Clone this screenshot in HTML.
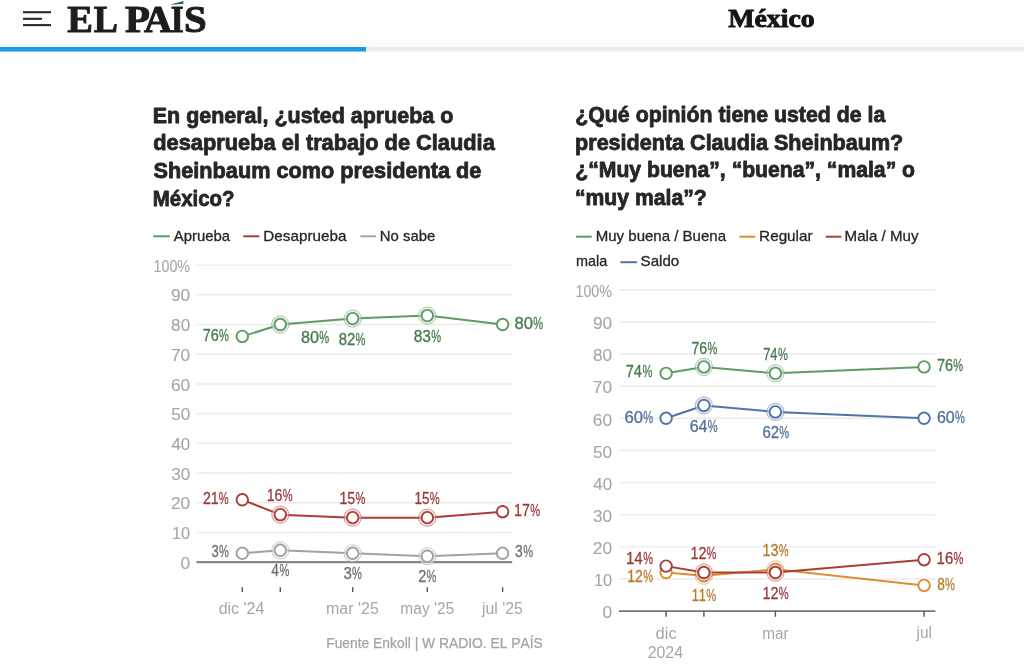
<!DOCTYPE html>
<html><head><meta charset="utf-8"><style>
html,body{margin:0;padding:0;background:#fff;width:1024px;height:671px;overflow:hidden}
svg text{font-kerning:none}
</style></head><body>
<svg width="1024" height="671" viewBox="0 0 1024 671" style="display:block;filter:blur(0.35px)">
<rect width="1024" height="671" fill="#fff"/>
<defs><linearGradient id="sh" x1="0" y1="0" x2="0" y2="1"><stop offset="0" stop-color="#000" stop-opacity="0"/><stop offset="1" stop-color="#000" stop-opacity="0.025"/></linearGradient></defs>
<rect x="0" y="38" width="1024" height="9" fill="url(#sh)"/>
<rect x="0" y="47" width="1024" height="4.5" fill="#ececec"/>
<rect x="0" y="47" width="366" height="4.5" fill="#1b9be3"/>
<line x1="23" y1="12.2" x2="51" y2="12.2" stroke="#2a2a2a" stroke-width="2.1"/>
<line x1="23" y1="18.8" x2="42" y2="18.8" stroke="#2a2a2a" stroke-width="2.1"/>
<line x1="23" y1="25.1" x2="51" y2="25.1" stroke="#2a2a2a" stroke-width="2.1"/>
<text x="67.34" y="31.80" font-family="Liberation Serif" font-weight="bold" font-size="37" fill="#1d1d1b" textLength="25.63" lengthAdjust="spacingAndGlyphs" stroke="#1d1d1b" stroke-width="1.0" stroke-linejoin="round">E</text>
<text x="93.68" y="31.80" font-family="Liberation Serif" font-weight="bold" font-size="37" fill="#1d1d1b" textLength="24.14" lengthAdjust="spacingAndGlyphs" stroke="#1d1d1b" stroke-width="1.0" stroke-linejoin="round">L</text>
<text x="124.90" y="31.80" font-family="Liberation Serif" font-weight="bold" font-size="37" fill="#1d1d1b" textLength="24.96" lengthAdjust="spacingAndGlyphs" stroke="#1d1d1b" stroke-width="1.0" stroke-linejoin="round">P</text>
<text x="144.12" y="31.80" font-family="Liberation Serif" font-weight="bold" font-size="37" fill="#1d1d1b" textLength="28.06" lengthAdjust="spacingAndGlyphs" stroke="#1d1d1b" stroke-width="1.0" stroke-linejoin="round">A</text>
<text x="170.68" y="31.80" font-family="Liberation Serif" font-weight="bold" font-size="37" fill="#1d1d1b" textLength="12.94" lengthAdjust="spacingAndGlyphs" stroke="#1d1d1b" stroke-width="1.0" stroke-linejoin="round">I</text>
<text x="184.13" y="31.80" font-family="Liberation Serif" font-weight="bold" font-size="37" fill="#1d1d1b" textLength="22.71" lengthAdjust="spacingAndGlyphs" stroke="#1d1d1b" stroke-width="1.0" stroke-linejoin="round">S</text>
<path d="M171.4 4.3 L183.4 1.0 L183.4 4.1 L171.4 4.7 Z" fill="#2b6478"/>
<text x="728.17" y="26.90" font-family="Liberation Serif" font-weight="bold" font-size="25.5" fill="#151515" textLength="86.54" lengthAdjust="spacingAndGlyphs" stroke="#151515" stroke-width="0.9" stroke-linejoin="round">México</text>
<text x="152.76" y="122.70" font-family="Liberation Sans" font-weight="bold" font-size="21.5" fill="#262626" textLength="300.57" lengthAdjust="spacingAndGlyphs" stroke="#262626" stroke-width="0.8" stroke-linejoin="round">En general, ¿usted aprueba o</text>
<text x="153.31" y="150.20" font-family="Liberation Sans" font-weight="bold" font-size="21.5" fill="#262626" textLength="341.46" lengthAdjust="spacingAndGlyphs" stroke="#262626" stroke-width="0.8" stroke-linejoin="round">desaprueba el trabajo de Claudia</text>
<text x="153.58" y="178.10" font-family="Liberation Sans" font-weight="bold" font-size="21.5" fill="#262626" textLength="327.77" lengthAdjust="spacingAndGlyphs" stroke="#262626" stroke-width="0.8" stroke-linejoin="round">Sheinbaum como presidenta de</text>
<text x="152.83" y="206.00" font-family="Liberation Sans" font-weight="bold" font-size="21.5" fill="#262626" textLength="81.74" lengthAdjust="spacingAndGlyphs" stroke="#262626" stroke-width="0.8" stroke-linejoin="round">México?</text>
<text x="575.31" y="121.80" font-family="Liberation Sans" font-weight="bold" font-size="21.5" fill="#262626" textLength="309.95" lengthAdjust="spacingAndGlyphs" stroke="#262626" stroke-width="0.8" stroke-linejoin="round">¿Qué opinión tiene usted de la</text>
<text x="575.08" y="149.60" font-family="Liberation Sans" font-weight="bold" font-size="21.5" fill="#262626" textLength="328.16" lengthAdjust="spacingAndGlyphs" stroke="#262626" stroke-width="0.8" stroke-linejoin="round">presidenta Claudia Sheinbaum?</text>
<text x="575.32" y="177.30" font-family="Liberation Sans" font-weight="bold" font-size="21.5" fill="#262626" textLength="339.70" lengthAdjust="spacingAndGlyphs" stroke="#262626" stroke-width="0.8" stroke-linejoin="round">¿“Muy buena”, “buena”, “mala” o</text>
<text x="574.94" y="205.00" font-family="Liberation Sans" font-weight="bold" font-size="21.5" fill="#262626" textLength="131.78" lengthAdjust="spacingAndGlyphs" stroke="#262626" stroke-width="0.8" stroke-linejoin="round">“muy mala”?</text>
<line x1="153.3" y1="236.3" x2="169.8" y2="236.3" stroke="#5e9b66" stroke-width="2"/>
<text x="173.82" y="240.90" font-family="Liberation Sans" font-weight="normal" font-size="15" fill="#262626" textLength="56.33" lengthAdjust="spacingAndGlyphs" stroke="#262626" stroke-width="0.3" stroke-linejoin="round">Aprueba</text>
<line x1="243.3" y1="236.3" x2="259.4" y2="236.3" stroke="#ab3d37" stroke-width="2"/>
<text x="263.30" y="240.90" font-family="Liberation Sans" font-weight="normal" font-size="15" fill="#262626" textLength="83.15" lengthAdjust="spacingAndGlyphs" stroke="#262626" stroke-width="0.3" stroke-linejoin="round">Desaprueba</text>
<line x1="360.4" y1="236.3" x2="376.1" y2="236.3" stroke="#a5a5a5" stroke-width="2"/>
<text x="379.83" y="240.90" font-family="Liberation Sans" font-weight="normal" font-size="15" fill="#262626" textLength="55.38" lengthAdjust="spacingAndGlyphs" stroke="#262626" stroke-width="0.3" stroke-linejoin="round">No sabe</text>
<line x1="575.9" y1="236.7" x2="591.7" y2="236.7" stroke="#5e9b66" stroke-width="2"/>
<text x="595.72" y="240.80" font-family="Liberation Sans" font-weight="normal" font-size="15" fill="#262626" textLength="130.33" lengthAdjust="spacingAndGlyphs" stroke="#262626" stroke-width="0.3" stroke-linejoin="round">Muy buena / Buena</text>
<line x1="739.4" y1="236.7" x2="755.4" y2="236.7" stroke="#da8f30" stroke-width="2"/>
<text x="759.10" y="240.80" font-family="Liberation Sans" font-weight="normal" font-size="15" fill="#262626" textLength="53.51" lengthAdjust="spacingAndGlyphs" stroke="#262626" stroke-width="0.3" stroke-linejoin="round">Regular</text>
<line x1="825.7" y1="236.7" x2="841.3" y2="236.7" stroke="#ab3d37" stroke-width="2"/>
<text x="844.61" y="240.80" font-family="Liberation Sans" font-weight="normal" font-size="15" fill="#262626" textLength="73.87" lengthAdjust="spacingAndGlyphs" stroke="#262626" stroke-width="0.3" stroke-linejoin="round">Mala / Muy</text>
<text x="576.09" y="266.00" font-family="Liberation Sans" font-weight="normal" font-size="15" fill="#262626" textLength="31.26" lengthAdjust="spacingAndGlyphs" stroke="#262626" stroke-width="0.3" stroke-linejoin="round">mala</text>
<line x1="620.4" y1="262.2" x2="637.0" y2="262.2" stroke="#4f75a8" stroke-width="2"/>
<text x="640.56" y="266.00" font-family="Liberation Sans" font-weight="normal" font-size="15" fill="#262626" textLength="38.72" lengthAdjust="spacingAndGlyphs" stroke="#262626" stroke-width="0.3" stroke-linejoin="round">Saldo</text>
<line x1="196.5" y1="532.49" x2="512.2" y2="532.49" stroke="#ebebeb" stroke-width="1.4"/>
<line x1="196.5" y1="502.78" x2="512.2" y2="502.78" stroke="#ebebeb" stroke-width="1.4"/>
<line x1="196.5" y1="473.07" x2="512.2" y2="473.07" stroke="#ebebeb" stroke-width="1.4"/>
<line x1="196.5" y1="443.36" x2="512.2" y2="443.36" stroke="#ebebeb" stroke-width="1.4"/>
<line x1="196.5" y1="413.65" x2="512.2" y2="413.65" stroke="#ebebeb" stroke-width="1.4"/>
<line x1="196.5" y1="383.94" x2="512.2" y2="383.94" stroke="#ebebeb" stroke-width="1.4"/>
<line x1="196.5" y1="354.23" x2="512.2" y2="354.23" stroke="#ebebeb" stroke-width="1.4"/>
<line x1="196.5" y1="324.52" x2="512.2" y2="324.52" stroke="#ebebeb" stroke-width="1.4"/>
<line x1="196.5" y1="294.81" x2="512.2" y2="294.81" stroke="#ebebeb" stroke-width="1.4"/>
<line x1="196.5" y1="265.10" x2="512.2" y2="265.10" stroke="#ebebeb" stroke-width="1.4"/>
<line x1="196.5" y1="562.20" x2="512.2" y2="562.20" stroke="#868686" stroke-width="2.2"/>
<line x1="242.3" y1="587.2" x2="242.3" y2="592" stroke="#555" stroke-width="1.4"/>
<line x1="280.3" y1="587.2" x2="280.3" y2="592" stroke="#555" stroke-width="1.4"/>
<line x1="352.7" y1="587.2" x2="352.7" y2="592" stroke="#555" stroke-width="1.4"/>
<line x1="427.3" y1="587.2" x2="427.3" y2="592" stroke="#555" stroke-width="1.4"/>
<line x1="502.6" y1="587.2" x2="502.6" y2="592" stroke="#555" stroke-width="1.4"/>
<polyline points="242.30,336.40 280.30,324.52 352.70,318.58 427.30,315.61 502.60,324.52" fill="none" stroke="#5e9b66" stroke-width="2.0" stroke-linejoin="round"/>
<circle cx="242.30" cy="336.40" r="5.75" fill="#fff" stroke="#5e9b66" stroke-width="1.9"/>
<circle cx="280.30" cy="324.52" r="8.6" fill="#fff" fill-opacity="0.55" stroke="#5e9b66" stroke-opacity="0.5" stroke-width="1.0"/>
<circle cx="280.30" cy="324.52" r="8.6" fill="#5e9b66" fill-opacity="0.12"/>
<circle cx="280.30" cy="324.52" r="5.75" fill="#fff" stroke="#5e9b66" stroke-width="1.9"/>
<circle cx="352.70" cy="318.58" r="8.6" fill="#fff" fill-opacity="0.55" stroke="#5e9b66" stroke-opacity="0.5" stroke-width="1.0"/>
<circle cx="352.70" cy="318.58" r="8.6" fill="#5e9b66" fill-opacity="0.12"/>
<circle cx="352.70" cy="318.58" r="5.75" fill="#fff" stroke="#5e9b66" stroke-width="1.9"/>
<circle cx="427.30" cy="315.61" r="8.6" fill="#fff" fill-opacity="0.55" stroke="#5e9b66" stroke-opacity="0.5" stroke-width="1.0"/>
<circle cx="427.30" cy="315.61" r="8.6" fill="#5e9b66" fill-opacity="0.12"/>
<circle cx="427.30" cy="315.61" r="5.75" fill="#fff" stroke="#5e9b66" stroke-width="1.9"/>
<circle cx="502.60" cy="324.52" r="5.75" fill="#fff" stroke="#5e9b66" stroke-width="1.9"/>
<polyline points="242.30,499.81 280.30,514.66 352.70,517.63 427.30,517.63 502.60,511.69" fill="none" stroke="#ab3d37" stroke-width="2.0" stroke-linejoin="round"/>
<circle cx="242.30" cy="499.81" r="5.75" fill="#fff" stroke="#ab3d37" stroke-width="1.9"/>
<circle cx="280.30" cy="514.66" r="8.6" fill="#fff" fill-opacity="0.55" stroke="#ab3d37" stroke-opacity="0.5" stroke-width="1.0"/>
<circle cx="280.30" cy="514.66" r="8.6" fill="#ab3d37" fill-opacity="0.12"/>
<circle cx="280.30" cy="514.66" r="5.75" fill="#fff" stroke="#ab3d37" stroke-width="1.9"/>
<circle cx="352.70" cy="517.63" r="8.6" fill="#fff" fill-opacity="0.55" stroke="#ab3d37" stroke-opacity="0.5" stroke-width="1.0"/>
<circle cx="352.70" cy="517.63" r="8.6" fill="#ab3d37" fill-opacity="0.12"/>
<circle cx="352.70" cy="517.63" r="5.75" fill="#fff" stroke="#ab3d37" stroke-width="1.9"/>
<circle cx="427.30" cy="517.63" r="8.6" fill="#fff" fill-opacity="0.55" stroke="#ab3d37" stroke-opacity="0.5" stroke-width="1.0"/>
<circle cx="427.30" cy="517.63" r="8.6" fill="#ab3d37" fill-opacity="0.12"/>
<circle cx="427.30" cy="517.63" r="5.75" fill="#fff" stroke="#ab3d37" stroke-width="1.9"/>
<circle cx="502.60" cy="511.69" r="5.75" fill="#fff" stroke="#ab3d37" stroke-width="1.9"/>
<polyline points="242.30,553.29 280.30,550.32 352.70,553.29 427.30,556.26 502.60,553.29" fill="none" stroke="#a0a2a1" stroke-width="2.0" stroke-linejoin="round"/>
<circle cx="242.30" cy="553.29" r="5.75" fill="#fff" stroke="#a0a2a1" stroke-width="1.9"/>
<circle cx="280.30" cy="550.32" r="8.6" fill="#fff" fill-opacity="0.55" stroke="#a0a2a1" stroke-opacity="0.5" stroke-width="1.0"/>
<circle cx="280.30" cy="550.32" r="8.6" fill="#a0a2a1" fill-opacity="0.12"/>
<circle cx="280.30" cy="550.32" r="5.75" fill="#fff" stroke="#a0a2a1" stroke-width="1.9"/>
<circle cx="352.70" cy="553.29" r="8.6" fill="#fff" fill-opacity="0.55" stroke="#a0a2a1" stroke-opacity="0.5" stroke-width="1.0"/>
<circle cx="352.70" cy="553.29" r="8.6" fill="#a0a2a1" fill-opacity="0.12"/>
<circle cx="352.70" cy="553.29" r="5.75" fill="#fff" stroke="#a0a2a1" stroke-width="1.9"/>
<circle cx="427.30" cy="556.26" r="8.6" fill="#fff" fill-opacity="0.55" stroke="#a0a2a1" stroke-opacity="0.5" stroke-width="1.0"/>
<circle cx="427.30" cy="556.26" r="8.6" fill="#a0a2a1" fill-opacity="0.12"/>
<circle cx="427.30" cy="556.26" r="5.75" fill="#fff" stroke="#a0a2a1" stroke-width="1.9"/>
<circle cx="502.60" cy="553.29" r="5.75" fill="#fff" stroke="#a0a2a1" stroke-width="1.9"/>
<text x="180.57" y="568.80" font-family="Liberation Sans" font-weight="normal" font-size="16" fill="#a6a6a6" textLength="9.66" lengthAdjust="spacingAndGlyphs" stroke="#a6a6a6" stroke-width="0.1" stroke-linejoin="round">0</text>
<text x="172.00" y="539.09" font-family="Liberation Sans" font-weight="normal" font-size="16" fill="#a6a6a6" textLength="18.18" lengthAdjust="spacingAndGlyphs" stroke="#a6a6a6" stroke-width="0.1" stroke-linejoin="round">10</text>
<text x="170.98" y="509.38" font-family="Liberation Sans" font-weight="normal" font-size="16" fill="#a6a6a6" textLength="19.25" lengthAdjust="spacingAndGlyphs" stroke="#a6a6a6" stroke-width="0.1" stroke-linejoin="round">20</text>
<text x="171.20" y="479.67" font-family="Liberation Sans" font-weight="normal" font-size="16" fill="#a6a6a6" textLength="19.02" lengthAdjust="spacingAndGlyphs" stroke="#a6a6a6" stroke-width="0.1" stroke-linejoin="round">30</text>
<text x="171.46" y="449.96" font-family="Liberation Sans" font-weight="normal" font-size="16" fill="#a6a6a6" textLength="18.75" lengthAdjust="spacingAndGlyphs" stroke="#a6a6a6" stroke-width="0.1" stroke-linejoin="round">40</text>
<text x="171.16" y="420.25" font-family="Liberation Sans" font-weight="normal" font-size="16" fill="#a6a6a6" textLength="19.06" lengthAdjust="spacingAndGlyphs" stroke="#a6a6a6" stroke-width="0.1" stroke-linejoin="round">50</text>
<text x="170.97" y="390.54" font-family="Liberation Sans" font-weight="normal" font-size="16" fill="#a6a6a6" textLength="19.26" lengthAdjust="spacingAndGlyphs" stroke="#a6a6a6" stroke-width="0.1" stroke-linejoin="round">60</text>
<text x="170.96" y="360.83" font-family="Liberation Sans" font-weight="normal" font-size="16" fill="#a6a6a6" textLength="19.26" lengthAdjust="spacingAndGlyphs" stroke="#a6a6a6" stroke-width="0.1" stroke-linejoin="round">70</text>
<text x="171.10" y="331.12" font-family="Liberation Sans" font-weight="normal" font-size="16" fill="#a6a6a6" textLength="19.12" lengthAdjust="spacingAndGlyphs" stroke="#a6a6a6" stroke-width="0.1" stroke-linejoin="round">80</text>
<text x="171.04" y="301.41" font-family="Liberation Sans" font-weight="normal" font-size="16" fill="#a6a6a6" textLength="19.18" lengthAdjust="spacingAndGlyphs" stroke="#a6a6a6" stroke-width="0.1" stroke-linejoin="round">90</text>
<text x="153.56" y="271.70" font-family="Liberation Sans" font-weight="normal" font-size="16" fill="#a6a6a6" textLength="36.50" lengthAdjust="spacingAndGlyphs" stroke="#a6a6a6" stroke-width="0.1" stroke-linejoin="round">100%</text>
<text x="202.71" y="340.60" font-family="Liberation Sans" font-weight="normal" font-size="16" fill="#467b4d" textLength="16.08" lengthAdjust="spacingAndGlyphs" stroke="#467b4d" stroke-width="0.3" stroke-linejoin="round">76</text>
<text x="219.05" y="340.60" font-family="Liberation Sans" font-weight="normal" font-size="16" fill="#467b4d" textLength="9.89" lengthAdjust="spacingAndGlyphs" stroke="#467b4d" stroke-width="0.3" stroke-linejoin="round">%</text>
<text x="300.95" y="342.60" font-family="Liberation Sans" font-weight="normal" font-size="16" fill="#467b4d" textLength="18.04" lengthAdjust="spacingAndGlyphs" stroke="#467b4d" stroke-width="0.3" stroke-linejoin="round">80</text>
<text x="319.25" y="342.60" font-family="Liberation Sans" font-weight="normal" font-size="16" fill="#467b4d" textLength="9.89" lengthAdjust="spacingAndGlyphs" stroke="#467b4d" stroke-width="0.3" stroke-linejoin="round">%</text>
<text x="338.75" y="345.00" font-family="Liberation Sans" font-weight="normal" font-size="16" fill="#467b4d" textLength="16.54" lengthAdjust="spacingAndGlyphs" stroke="#467b4d" stroke-width="0.3" stroke-linejoin="round">82</text>
<text x="355.45" y="345.00" font-family="Liberation Sans" font-weight="normal" font-size="16" fill="#467b4d" textLength="9.89" lengthAdjust="spacingAndGlyphs" stroke="#467b4d" stroke-width="0.3" stroke-linejoin="round">%</text>
<text x="413.72" y="341.60" font-family="Liberation Sans" font-weight="normal" font-size="16" fill="#467b4d" textLength="17.31" lengthAdjust="spacingAndGlyphs" stroke="#467b4d" stroke-width="0.3" stroke-linejoin="round">83</text>
<text x="431.25" y="341.60" font-family="Liberation Sans" font-weight="normal" font-size="16" fill="#467b4d" textLength="9.89" lengthAdjust="spacingAndGlyphs" stroke="#467b4d" stroke-width="0.3" stroke-linejoin="round">%</text>
<text x="514.63" y="328.50" font-family="Liberation Sans" font-weight="normal" font-size="16" fill="#467b4d" textLength="18.47" lengthAdjust="spacingAndGlyphs" stroke="#467b4d" stroke-width="0.3" stroke-linejoin="round">80</text>
<text x="533.35" y="328.50" font-family="Liberation Sans" font-weight="normal" font-size="16" fill="#467b4d" textLength="9.89" lengthAdjust="spacingAndGlyphs" stroke="#467b4d" stroke-width="0.3" stroke-linejoin="round">%</text>
<text x="202.94" y="503.70" font-family="Liberation Sans" font-weight="normal" font-size="16" fill="#9a3a3c" textLength="15.70" lengthAdjust="spacingAndGlyphs" stroke="#9a3a3c" stroke-width="0.3" stroke-linejoin="round">21</text>
<text x="218.85" y="503.70" font-family="Liberation Sans" font-weight="normal" font-size="16" fill="#9a3a3c" textLength="9.89" lengthAdjust="spacingAndGlyphs" stroke="#9a3a3c" stroke-width="0.3" stroke-linejoin="round">%</text>
<text x="266.67" y="501.40" font-family="Liberation Sans" font-weight="normal" font-size="16" fill="#9a3a3c" textLength="15.81" lengthAdjust="spacingAndGlyphs" stroke="#9a3a3c" stroke-width="0.3" stroke-linejoin="round">16</text>
<text x="282.75" y="501.40" font-family="Liberation Sans" font-weight="normal" font-size="16" fill="#9a3a3c" textLength="9.89" lengthAdjust="spacingAndGlyphs" stroke="#9a3a3c" stroke-width="0.3" stroke-linejoin="round">%</text>
<text x="339.47" y="504.30" font-family="Liberation Sans" font-weight="normal" font-size="16" fill="#9a3a3c" textLength="15.78" lengthAdjust="spacingAndGlyphs" stroke="#9a3a3c" stroke-width="0.3" stroke-linejoin="round">15</text>
<text x="355.55" y="504.30" font-family="Liberation Sans" font-weight="normal" font-size="16" fill="#9a3a3c" textLength="9.89" lengthAdjust="spacingAndGlyphs" stroke="#9a3a3c" stroke-width="0.3" stroke-linejoin="round">%</text>
<text x="414.52" y="504.30" font-family="Liberation Sans" font-weight="normal" font-size="16" fill="#9a3a3c" textLength="14.99" lengthAdjust="spacingAndGlyphs" stroke="#9a3a3c" stroke-width="0.3" stroke-linejoin="round">15</text>
<text x="429.85" y="504.30" font-family="Liberation Sans" font-weight="normal" font-size="16" fill="#9a3a3c" textLength="9.89" lengthAdjust="spacingAndGlyphs" stroke="#9a3a3c" stroke-width="0.3" stroke-linejoin="round">%</text>
<text x="514.06" y="516.00" font-family="Liberation Sans" font-weight="normal" font-size="16" fill="#9a3a3c" textLength="15.91" lengthAdjust="spacingAndGlyphs" stroke="#9a3a3c" stroke-width="0.3" stroke-linejoin="round">17</text>
<text x="530.15" y="516.00" font-family="Liberation Sans" font-weight="normal" font-size="16" fill="#9a3a3c" textLength="9.89" lengthAdjust="spacingAndGlyphs" stroke="#9a3a3c" stroke-width="0.3" stroke-linejoin="round">%</text>
<text x="211.45" y="556.70" font-family="Liberation Sans" font-weight="normal" font-size="16" fill="#6e7071" textLength="7.27" lengthAdjust="spacingAndGlyphs" stroke="#6e7071" stroke-width="0.3" stroke-linejoin="round">3</text>
<text x="219.05" y="556.70" font-family="Liberation Sans" font-weight="normal" font-size="16" fill="#6e7071" textLength="9.89" lengthAdjust="spacingAndGlyphs" stroke="#6e7071" stroke-width="0.3" stroke-linejoin="round">%</text>
<text x="271.34" y="576.00" font-family="Liberation Sans" font-weight="normal" font-size="16" fill="#6e7071" textLength="7.62" lengthAdjust="spacingAndGlyphs" stroke="#6e7071" stroke-width="0.3" stroke-linejoin="round">4</text>
<text x="279.45" y="576.00" font-family="Liberation Sans" font-weight="normal" font-size="16" fill="#6e7071" textLength="9.89" lengthAdjust="spacingAndGlyphs" stroke="#6e7071" stroke-width="0.3" stroke-linejoin="round">%</text>
<text x="343.48" y="579.30" font-family="Liberation Sans" font-weight="normal" font-size="16" fill="#6e7071" textLength="8.33" lengthAdjust="spacingAndGlyphs" stroke="#6e7071" stroke-width="0.3" stroke-linejoin="round">3</text>
<text x="352.05" y="579.30" font-family="Liberation Sans" font-weight="normal" font-size="16" fill="#6e7071" textLength="9.89" lengthAdjust="spacingAndGlyphs" stroke="#6e7071" stroke-width="0.3" stroke-linejoin="round">%</text>
<text x="418.32" y="582.30" font-family="Liberation Sans" font-weight="normal" font-size="16" fill="#6e7071" textLength="8.06" lengthAdjust="spacingAndGlyphs" stroke="#6e7071" stroke-width="0.3" stroke-linejoin="round">2</text>
<text x="426.55" y="582.30" font-family="Liberation Sans" font-weight="normal" font-size="16" fill="#6e7071" textLength="9.89" lengthAdjust="spacingAndGlyphs" stroke="#6e7071" stroke-width="0.3" stroke-linejoin="round">%</text>
<text x="515.12" y="557.00" font-family="Liberation Sans" font-weight="normal" font-size="16" fill="#6e7071" textLength="7.74" lengthAdjust="spacingAndGlyphs" stroke="#6e7071" stroke-width="0.3" stroke-linejoin="round">3</text>
<text x="523.15" y="557.00" font-family="Liberation Sans" font-weight="normal" font-size="16" fill="#6e7071" textLength="9.89" lengthAdjust="spacingAndGlyphs" stroke="#6e7071" stroke-width="0.3" stroke-linejoin="round">%</text>
<text x="218.63" y="613.60" font-family="Liberation Sans" font-weight="normal" font-size="16" fill="#a6a6a6" textLength="45.64" lengthAdjust="spacingAndGlyphs">dic '24</text>
<text x="326.04" y="613.60" font-family="Liberation Sans" font-weight="normal" font-size="16" fill="#a6a6a6" textLength="52.73" lengthAdjust="spacingAndGlyphs">mar '25</text>
<text x="400.37" y="613.60" font-family="Liberation Sans" font-weight="normal" font-size="16" fill="#a6a6a6" textLength="53.78" lengthAdjust="spacingAndGlyphs">may '25</text>
<text x="482.09" y="613.60" font-family="Liberation Sans" font-weight="normal" font-size="16" fill="#a6a6a6" textLength="40.78" lengthAdjust="spacingAndGlyphs">jul '25</text>
<text x="326.19" y="648.00" font-family="Liberation Sans" font-weight="normal" font-size="15" fill="#a3a3a3" textLength="216.62" lengthAdjust="spacingAndGlyphs" stroke="#a3a3a3" stroke-width="0.25" stroke-linejoin="round">Fuente Enkoll | W RADIO. EL PAÍS</text>
<line x1="619.0" y1="578.97" x2="935.4" y2="578.97" stroke="#ebebeb" stroke-width="1.4"/>
<line x1="619.0" y1="546.84" x2="935.4" y2="546.84" stroke="#ebebeb" stroke-width="1.4"/>
<line x1="619.0" y1="514.71" x2="935.4" y2="514.71" stroke="#ebebeb" stroke-width="1.4"/>
<line x1="619.0" y1="482.58" x2="935.4" y2="482.58" stroke="#ebebeb" stroke-width="1.4"/>
<line x1="619.0" y1="450.45" x2="935.4" y2="450.45" stroke="#ebebeb" stroke-width="1.4"/>
<line x1="619.0" y1="418.32" x2="935.4" y2="418.32" stroke="#ebebeb" stroke-width="1.4"/>
<line x1="619.0" y1="386.19" x2="935.4" y2="386.19" stroke="#ebebeb" stroke-width="1.4"/>
<line x1="619.0" y1="354.06" x2="935.4" y2="354.06" stroke="#ebebeb" stroke-width="1.4"/>
<line x1="619.0" y1="321.93" x2="935.4" y2="321.93" stroke="#ebebeb" stroke-width="1.4"/>
<line x1="619.0" y1="289.80" x2="935.4" y2="289.80" stroke="#ebebeb" stroke-width="1.4"/>
<line x1="619.0" y1="611.10" x2="935.4" y2="611.10" stroke="#767676" stroke-width="1.8"/>
<line x1="666.1" y1="611.1" x2="666.1" y2="616.8" stroke="#555" stroke-width="1.4"/>
<line x1="703.9" y1="611.1" x2="703.9" y2="616.8" stroke="#555" stroke-width="1.4"/>
<line x1="775.4" y1="611.1" x2="775.4" y2="616.8" stroke="#555" stroke-width="1.4"/>
<line x1="924.1" y1="611.1" x2="924.1" y2="616.8" stroke="#555" stroke-width="1.4"/>
<polyline points="666.10,373.34 703.90,366.91 775.40,373.34 924.10,366.91" fill="none" stroke="#5e9b66" stroke-width="2.0" stroke-linejoin="round"/>
<circle cx="666.10" cy="373.34" r="5.75" fill="#fff" stroke="#5e9b66" stroke-width="1.9"/>
<circle cx="703.90" cy="366.91" r="8.6" fill="#fff" fill-opacity="0.55" stroke="#5e9b66" stroke-opacity="0.5" stroke-width="1.0"/>
<circle cx="703.90" cy="366.91" r="8.6" fill="#5e9b66" fill-opacity="0.12"/>
<circle cx="703.90" cy="366.91" r="5.75" fill="#fff" stroke="#5e9b66" stroke-width="1.9"/>
<circle cx="775.40" cy="373.34" r="8.6" fill="#fff" fill-opacity="0.55" stroke="#5e9b66" stroke-opacity="0.5" stroke-width="1.0"/>
<circle cx="775.40" cy="373.34" r="8.6" fill="#5e9b66" fill-opacity="0.12"/>
<circle cx="775.40" cy="373.34" r="5.75" fill="#fff" stroke="#5e9b66" stroke-width="1.9"/>
<circle cx="924.10" cy="366.91" r="5.75" fill="#fff" stroke="#5e9b66" stroke-width="1.9"/>
<polyline points="666.10,572.54 703.90,575.76 775.40,569.33 924.10,585.40" fill="none" stroke="#da8f30" stroke-width="2.0" stroke-linejoin="round"/>
<circle cx="666.10" cy="572.54" r="5.75" fill="#fff" stroke="#da8f30" stroke-width="1.9"/>
<circle cx="703.90" cy="575.76" r="8.6" fill="#fff" fill-opacity="0.55" stroke="#da8f30" stroke-opacity="0.5" stroke-width="1.0"/>
<circle cx="703.90" cy="575.76" r="8.6" fill="#da8f30" fill-opacity="0.12"/>
<circle cx="703.90" cy="575.76" r="5.75" fill="#fff" stroke="#da8f30" stroke-width="1.9"/>
<circle cx="775.40" cy="569.33" r="8.6" fill="#fff" fill-opacity="0.55" stroke="#da8f30" stroke-opacity="0.5" stroke-width="1.0"/>
<circle cx="775.40" cy="569.33" r="8.6" fill="#da8f30" fill-opacity="0.12"/>
<circle cx="775.40" cy="569.33" r="5.75" fill="#fff" stroke="#da8f30" stroke-width="1.9"/>
<circle cx="924.10" cy="585.40" r="5.75" fill="#fff" stroke="#da8f30" stroke-width="1.9"/>
<polyline points="666.10,566.12 703.90,572.54 775.40,572.54 924.10,559.69" fill="none" stroke="#ab3d37" stroke-width="2.0" stroke-linejoin="round"/>
<circle cx="666.10" cy="566.12" r="5.75" fill="#fff" stroke="#ab3d37" stroke-width="1.9"/>
<circle cx="703.90" cy="572.54" r="8.6" fill="#fff" fill-opacity="0.55" stroke="#ab3d37" stroke-opacity="0.5" stroke-width="1.0"/>
<circle cx="703.90" cy="572.54" r="8.6" fill="#ab3d37" fill-opacity="0.12"/>
<circle cx="703.90" cy="572.54" r="5.75" fill="#fff" stroke="#ab3d37" stroke-width="1.9"/>
<circle cx="775.40" cy="572.54" r="8.6" fill="#fff" fill-opacity="0.55" stroke="#ab3d37" stroke-opacity="0.5" stroke-width="1.0"/>
<circle cx="775.40" cy="572.54" r="8.6" fill="#ab3d37" fill-opacity="0.12"/>
<circle cx="775.40" cy="572.54" r="5.75" fill="#fff" stroke="#ab3d37" stroke-width="1.9"/>
<circle cx="924.10" cy="559.69" r="5.75" fill="#fff" stroke="#ab3d37" stroke-width="1.9"/>
<polyline points="666.10,418.32 703.90,405.47 775.40,411.89 924.10,418.32" fill="none" stroke="#4f75a8" stroke-width="2.0" stroke-linejoin="round"/>
<circle cx="666.10" cy="418.32" r="5.75" fill="#fff" stroke="#4f75a8" stroke-width="1.9"/>
<circle cx="703.90" cy="405.47" r="8.6" fill="#fff" fill-opacity="0.55" stroke="#4f75a8" stroke-opacity="0.5" stroke-width="1.0"/>
<circle cx="703.90" cy="405.47" r="8.6" fill="#4f75a8" fill-opacity="0.12"/>
<circle cx="703.90" cy="405.47" r="5.75" fill="#fff" stroke="#4f75a8" stroke-width="1.9"/>
<circle cx="775.40" cy="411.89" r="8.6" fill="#fff" fill-opacity="0.55" stroke="#4f75a8" stroke-opacity="0.5" stroke-width="1.0"/>
<circle cx="775.40" cy="411.89" r="8.6" fill="#4f75a8" fill-opacity="0.12"/>
<circle cx="775.40" cy="411.89" r="5.75" fill="#fff" stroke="#4f75a8" stroke-width="1.9"/>
<circle cx="924.10" cy="418.32" r="5.75" fill="#fff" stroke="#4f75a8" stroke-width="1.9"/>
<text x="602.47" y="618.40" font-family="Liberation Sans" font-weight="normal" font-size="16" fill="#a6a6a6" textLength="9.66" lengthAdjust="spacingAndGlyphs" stroke="#a6a6a6" stroke-width="0.1" stroke-linejoin="round">0</text>
<text x="593.90" y="586.27" font-family="Liberation Sans" font-weight="normal" font-size="16" fill="#a6a6a6" textLength="18.18" lengthAdjust="spacingAndGlyphs" stroke="#a6a6a6" stroke-width="0.1" stroke-linejoin="round">10</text>
<text x="592.88" y="554.14" font-family="Liberation Sans" font-weight="normal" font-size="16" fill="#a6a6a6" textLength="19.25" lengthAdjust="spacingAndGlyphs" stroke="#a6a6a6" stroke-width="0.1" stroke-linejoin="round">20</text>
<text x="593.10" y="522.01" font-family="Liberation Sans" font-weight="normal" font-size="16" fill="#a6a6a6" textLength="19.02" lengthAdjust="spacingAndGlyphs" stroke="#a6a6a6" stroke-width="0.1" stroke-linejoin="round">30</text>
<text x="593.36" y="489.88" font-family="Liberation Sans" font-weight="normal" font-size="16" fill="#a6a6a6" textLength="18.75" lengthAdjust="spacingAndGlyphs" stroke="#a6a6a6" stroke-width="0.1" stroke-linejoin="round">40</text>
<text x="593.06" y="457.75" font-family="Liberation Sans" font-weight="normal" font-size="16" fill="#a6a6a6" textLength="19.06" lengthAdjust="spacingAndGlyphs" stroke="#a6a6a6" stroke-width="0.1" stroke-linejoin="round">50</text>
<text x="592.87" y="425.62" font-family="Liberation Sans" font-weight="normal" font-size="16" fill="#a6a6a6" textLength="19.26" lengthAdjust="spacingAndGlyphs" stroke="#a6a6a6" stroke-width="0.1" stroke-linejoin="round">60</text>
<text x="592.86" y="393.49" font-family="Liberation Sans" font-weight="normal" font-size="16" fill="#a6a6a6" textLength="19.26" lengthAdjust="spacingAndGlyphs" stroke="#a6a6a6" stroke-width="0.1" stroke-linejoin="round">70</text>
<text x="593.00" y="361.36" font-family="Liberation Sans" font-weight="normal" font-size="16" fill="#a6a6a6" textLength="19.12" lengthAdjust="spacingAndGlyphs" stroke="#a6a6a6" stroke-width="0.1" stroke-linejoin="round">80</text>
<text x="592.94" y="329.23" font-family="Liberation Sans" font-weight="normal" font-size="16" fill="#a6a6a6" textLength="19.18" lengthAdjust="spacingAndGlyphs" stroke="#a6a6a6" stroke-width="0.1" stroke-linejoin="round">90</text>
<text x="575.46" y="297.10" font-family="Liberation Sans" font-weight="normal" font-size="16" fill="#a6a6a6" textLength="36.50" lengthAdjust="spacingAndGlyphs" stroke="#a6a6a6" stroke-width="0.1" stroke-linejoin="round">100%</text>
<text x="625.70" y="377.00" font-family="Liberation Sans" font-weight="normal" font-size="16" fill="#467b4d" textLength="16.28" lengthAdjust="spacingAndGlyphs" stroke="#467b4d" stroke-width="0.3" stroke-linejoin="round">74</text>
<text x="642.45" y="377.00" font-family="Liberation Sans" font-weight="normal" font-size="16" fill="#467b4d" textLength="9.89" lengthAdjust="spacingAndGlyphs" stroke="#467b4d" stroke-width="0.3" stroke-linejoin="round">%</text>
<text x="691.53" y="354.00" font-family="Liberation Sans" font-weight="normal" font-size="16" fill="#467b4d" textLength="15.64" lengthAdjust="spacingAndGlyphs" stroke="#467b4d" stroke-width="0.3" stroke-linejoin="round">76</text>
<text x="707.45" y="354.00" font-family="Liberation Sans" font-weight="normal" font-size="16" fill="#467b4d" textLength="9.89" lengthAdjust="spacingAndGlyphs" stroke="#467b4d" stroke-width="0.3" stroke-linejoin="round">%</text>
<text x="763.19" y="360.00" font-family="Liberation Sans" font-weight="normal" font-size="16" fill="#467b4d" textLength="14.34" lengthAdjust="spacingAndGlyphs" stroke="#467b4d" stroke-width="0.3" stroke-linejoin="round">74</text>
<text x="778.05" y="360.00" font-family="Liberation Sans" font-weight="normal" font-size="16" fill="#467b4d" textLength="9.89" lengthAdjust="spacingAndGlyphs" stroke="#467b4d" stroke-width="0.3" stroke-linejoin="round">%</text>
<text x="937.01" y="371.00" font-family="Liberation Sans" font-weight="normal" font-size="16" fill="#467b4d" textLength="16.08" lengthAdjust="spacingAndGlyphs" stroke="#467b4d" stroke-width="0.3" stroke-linejoin="round">76</text>
<text x="953.35" y="371.00" font-family="Liberation Sans" font-weight="normal" font-size="16" fill="#467b4d" textLength="9.89" lengthAdjust="spacingAndGlyphs" stroke="#467b4d" stroke-width="0.3" stroke-linejoin="round">%</text>
<text x="624.61" y="423.00" font-family="Liberation Sans" font-weight="normal" font-size="16" fill="#51729a" textLength="18.49" lengthAdjust="spacingAndGlyphs" stroke="#51729a" stroke-width="0.3" stroke-linejoin="round">60</text>
<text x="643.35" y="423.00" font-family="Liberation Sans" font-weight="normal" font-size="16" fill="#51729a" textLength="9.89" lengthAdjust="spacingAndGlyphs" stroke="#51729a" stroke-width="0.3" stroke-linejoin="round">%</text>
<text x="689.64" y="431.70" font-family="Liberation Sans" font-weight="normal" font-size="16" fill="#51729a" textLength="17.67" lengthAdjust="spacingAndGlyphs" stroke="#51729a" stroke-width="0.3" stroke-linejoin="round">64</text>
<text x="707.75" y="431.70" font-family="Liberation Sans" font-weight="normal" font-size="16" fill="#51729a" textLength="9.89" lengthAdjust="spacingAndGlyphs" stroke="#51729a" stroke-width="0.3" stroke-linejoin="round">%</text>
<text x="762.49" y="438.00" font-family="Liberation Sans" font-weight="normal" font-size="16" fill="#51729a" textLength="16.61" lengthAdjust="spacingAndGlyphs" stroke="#51729a" stroke-width="0.3" stroke-linejoin="round">62</text>
<text x="779.25" y="438.00" font-family="Liberation Sans" font-weight="normal" font-size="16" fill="#51729a" textLength="9.89" lengthAdjust="spacingAndGlyphs" stroke="#51729a" stroke-width="0.3" stroke-linejoin="round">%</text>
<text x="936.94" y="422.50" font-family="Liberation Sans" font-weight="normal" font-size="16" fill="#51729a" textLength="17.84" lengthAdjust="spacingAndGlyphs" stroke="#51729a" stroke-width="0.3" stroke-linejoin="round">60</text>
<text x="955.05" y="422.50" font-family="Liberation Sans" font-weight="normal" font-size="16" fill="#51729a" textLength="9.89" lengthAdjust="spacingAndGlyphs" stroke="#51729a" stroke-width="0.3" stroke-linejoin="round">%</text>
<text x="625.90" y="564.30" font-family="Liberation Sans" font-weight="normal" font-size="16" fill="#9a3a3c" textLength="16.79" lengthAdjust="spacingAndGlyphs" stroke="#9a3a3c" stroke-width="0.3" stroke-linejoin="round">14</text>
<text x="643.15" y="564.30" font-family="Liberation Sans" font-weight="normal" font-size="16" fill="#9a3a3c" textLength="9.89" lengthAdjust="spacingAndGlyphs" stroke="#9a3a3c" stroke-width="0.3" stroke-linejoin="round">%</text>
<text x="690.57" y="559.30" font-family="Liberation Sans" font-weight="normal" font-size="16" fill="#9a3a3c" textLength="15.80" lengthAdjust="spacingAndGlyphs" stroke="#9a3a3c" stroke-width="0.3" stroke-linejoin="round">12</text>
<text x="706.55" y="559.30" font-family="Liberation Sans" font-weight="normal" font-size="16" fill="#9a3a3c" textLength="9.89" lengthAdjust="spacingAndGlyphs" stroke="#9a3a3c" stroke-width="0.3" stroke-linejoin="round">%</text>
<text x="762.45" y="598.70" font-family="Liberation Sans" font-weight="normal" font-size="16" fill="#9a3a3c" textLength="16.02" lengthAdjust="spacingAndGlyphs" stroke="#9a3a3c" stroke-width="0.3" stroke-linejoin="round">12</text>
<text x="778.65" y="598.70" font-family="Liberation Sans" font-weight="normal" font-size="16" fill="#9a3a3c" textLength="9.89" lengthAdjust="spacingAndGlyphs" stroke="#9a3a3c" stroke-width="0.3" stroke-linejoin="round">%</text>
<text x="936.61" y="563.70" font-family="Liberation Sans" font-weight="normal" font-size="16" fill="#9a3a3c" textLength="16.59" lengthAdjust="spacingAndGlyphs" stroke="#9a3a3c" stroke-width="0.3" stroke-linejoin="round">16</text>
<text x="953.45" y="563.70" font-family="Liberation Sans" font-weight="normal" font-size="16" fill="#9a3a3c" textLength="9.89" lengthAdjust="spacingAndGlyphs" stroke="#9a3a3c" stroke-width="0.3" stroke-linejoin="round">%</text>
<text x="627.28" y="582.30" font-family="Liberation Sans" font-weight="normal" font-size="16" fill="#b67c2c" textLength="15.68" lengthAdjust="spacingAndGlyphs" stroke="#b67c2c" stroke-width="0.3" stroke-linejoin="round">12</text>
<text x="643.15" y="582.30" font-family="Liberation Sans" font-weight="normal" font-size="16" fill="#b67c2c" textLength="9.89" lengthAdjust="spacingAndGlyphs" stroke="#b67c2c" stroke-width="0.3" stroke-linejoin="round">%</text>
<text x="691.67" y="601.30" font-family="Liberation Sans" font-weight="normal" font-size="16" fill="#b67c2c" textLength="14.31" lengthAdjust="spacingAndGlyphs" stroke="#b67c2c" stroke-width="0.3" stroke-linejoin="round">11</text>
<text x="706.25" y="601.30" font-family="Liberation Sans" font-weight="normal" font-size="16" fill="#b67c2c" textLength="9.89" lengthAdjust="spacingAndGlyphs" stroke="#b67c2c" stroke-width="0.3" stroke-linejoin="round">%</text>
<text x="762.46" y="555.90" font-family="Liberation Sans" font-weight="normal" font-size="16" fill="#b67c2c" textLength="15.92" lengthAdjust="spacingAndGlyphs" stroke="#b67c2c" stroke-width="0.3" stroke-linejoin="round">13</text>
<text x="778.65" y="555.90" font-family="Liberation Sans" font-weight="normal" font-size="16" fill="#b67c2c" textLength="9.89" lengthAdjust="spacingAndGlyphs" stroke="#b67c2c" stroke-width="0.3" stroke-linejoin="round">%</text>
<text x="937.16" y="589.80" font-family="Liberation Sans" font-weight="normal" font-size="16" fill="#b67c2c" textLength="7.59" lengthAdjust="spacingAndGlyphs" stroke="#b67c2c" stroke-width="0.3" stroke-linejoin="round">8</text>
<text x="945.05" y="589.80" font-family="Liberation Sans" font-weight="normal" font-size="16" fill="#b67c2c" textLength="9.89" lengthAdjust="spacingAndGlyphs" stroke="#b67c2c" stroke-width="0.3" stroke-linejoin="round">%</text>
<text x="655.61" y="638.50" font-family="Liberation Sans" font-weight="normal" font-size="16" fill="#a6a6a6" textLength="21.02" lengthAdjust="spacingAndGlyphs">dic</text>
<text x="647.70" y="657.80" font-family="Liberation Sans" font-weight="normal" font-size="16" fill="#a6a6a6" textLength="35.37" lengthAdjust="spacingAndGlyphs">2024</text>
<text x="762.18" y="638.50" font-family="Liberation Sans" font-weight="normal" font-size="16" fill="#a6a6a6" textLength="26.37" lengthAdjust="spacingAndGlyphs">mar</text>
<text x="916.58" y="637.80" font-family="Liberation Sans" font-weight="normal" font-size="16" fill="#a6a6a6" textLength="15.46" lengthAdjust="spacingAndGlyphs">jul</text>
</svg>
</body></html>
